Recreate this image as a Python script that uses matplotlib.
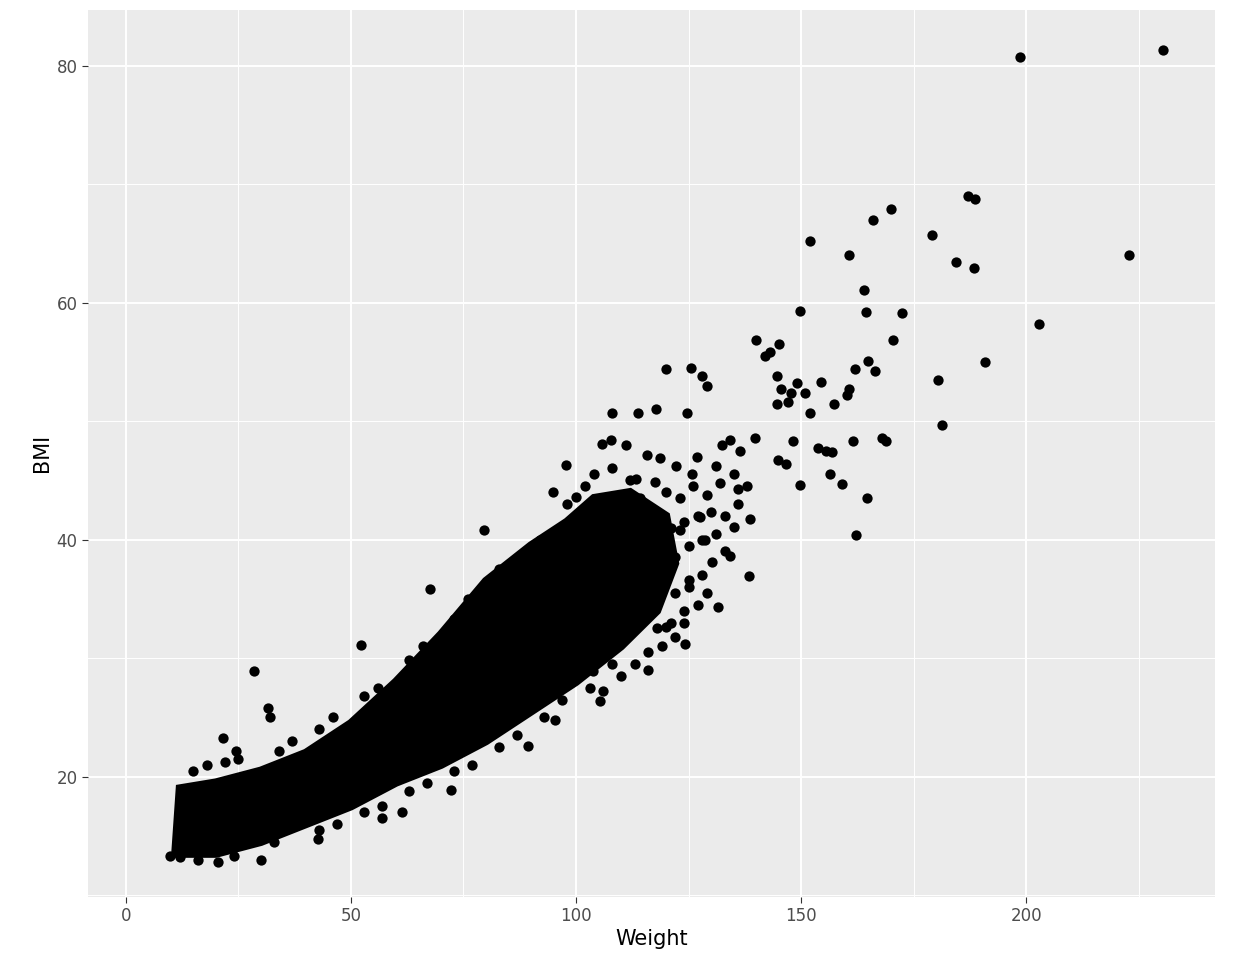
import matplotlib.pyplot as plt
from matplotlib.ticker import MultipleLocator

# outlying / fringe points (Weight, BMI)
pts_weight = [
    230.4, 198.7, 222.9, 202.9, 187.1, 188.7, 179.1, 184.4, 188.4, 170.0, 166.0,
    152.0, 160.7, 164.0, 164.4, 172.4, 149.8, 170.4, 190.9, 180.4, 181.3, 164.9,
    166.4, 162.0, 140.0, 145.0, 143.1, 142.0, 120.0, 125.6, 128.0, 129.1, 154.4,
    149.0, 150.9, 160.7, 160.2, 144.7, 145.6, 147.8, 147.0, 144.7, 157.3, 152.0,
    161.6, 168.0, 168.9, 153.8, 156.9, 155.6, 156.4, 159.1, 164.7, 162.2, 149.8,
    144.9, 148.2, 146.7, 108.0, 117.8, 113.8, 124.7, 107.8, 94.9, 100.0, 120.0,
    124.2, 131.6, 138.4, 103.8, 105.3, 95.3, 89.3, 72.2, 61.3, 56.9, 42.7, 28.4,
    31.6, 32.0, 21.6, 24.4, 9.8, 30.0, 20.4, 52.2, 67.6, 79.6, 97.8, 105.8, 111.1,
    115.8, 132.4, 134.2, 136.4, 139.8, 131.1, 136.0, 138.7, 135.0, 128.7, 130.2,
    125.1, 134.2, 126.9, 125.8, 122.2, 118.7, 117.6, 113.3, 102.0, 105.3, 109.8,
    114.2, 118.7, 123.1, 127.6,
    # band fringe
    15, 18, 22, 25, 34, 37, 43, 46, 53, 56, 63, 66, 73, 76, 83, 86, 92, 95,
    12, 16, 24, 33, 43, 47, 53, 57, 63, 67, 73, 77, 83, 87, 93, 97, 103, 108,
    # dense patch right of the core
    120, 123, 126, 129, 132, 121, 124, 127, 130, 133, 136, 119, 122, 125, 128,
    131, 122, 125, 128, 118, 121, 124, 127, 116, 119, 122, 113, 116, 110, 106,
    102, 98, 104, 108, 112, 135, 138, 133, 129, 124,
]
pts_bmi = [
    81.3, 80.7, 64.0, 58.2, 69.0, 68.7, 65.7, 63.4, 62.9, 67.9, 67.0,
    65.2, 64.0, 61.1, 59.2, 59.1, 59.3, 56.8, 55.0, 53.5, 49.7, 55.1,
    54.2, 54.4, 56.8, 56.5, 55.8, 55.5, 54.4, 54.5, 53.8, 53.0, 53.3,
    53.2, 52.4, 52.7, 52.2, 53.8, 52.7, 52.4, 51.6, 51.4, 51.4, 50.7,
    48.3, 48.6, 48.3, 47.7, 47.4, 47.5, 45.5, 44.7, 43.5, 40.4, 44.6,
    46.7, 48.3, 46.4, 50.7, 51.0, 50.7, 50.7, 48.4, 44.0, 43.6, 32.6,
    31.2, 34.3, 36.9, 28.9, 26.4, 24.8, 22.6, 18.9, 17.0, 16.5, 14.7, 28.9,
    25.8, 25.0, 23.3, 22.2, 13.3, 13.0, 12.8, 31.1, 35.8, 40.8, 46.3, 48.1, 48.0,
    47.1, 48.0, 48.4, 47.5, 48.6, 46.2, 44.3, 41.7, 41.1, 40.0, 38.1,
    36.6, 38.6, 47.0, 45.5, 46.2, 46.9, 44.9, 45.1, 40.8, 42.4, 42.5,
    43.5, 41.7, 40.8, 41.9,
    20.5, 21.0, 21.2, 21.5, 22.2, 23.0, 24.0, 25.0, 26.8, 27.5, 29.8, 31.0,
    33.3, 35.0, 37.5, 38.0, 40.0, 40.5,
    13.2, 13.0, 13.3, 14.5, 15.5, 16.0, 17.0, 17.5, 18.8, 19.5, 20.5, 21.0,
    22.5, 23.5, 25.0, 26.5, 27.5, 29.5,
    44.0, 43.5, 44.5, 43.8, 44.8, 41.0, 41.5, 42.0, 42.3, 42.0, 43.0, 38.0,
    38.5, 39.5, 40.0, 40.5, 35.5, 36.0, 37.0, 32.5, 33.0, 34.0, 34.5, 30.5,
    31.0, 31.8, 29.5, 29.0, 28.5, 27.2, 44.5, 43.0, 45.5, 46.0, 45.0, 45.5,
    44.5, 39.0, 35.5, 33.0,
]

# outline of the solid, fully overplotted core of the cloud
core_weight = [11, 20, 30, 40, 50, 60, 70, 80, 90, 100, 110, 118, 122,
               120, 112, 104, 98, 90, 80, 70, 60, 50, 40, 30, 20, 12]
core_bmi = [13.5, 13.5, 14.5, 16, 17.5, 19.5, 21, 23, 25.5, 28, 31, 34, 38,
            42, 44, 43.5, 41.5, 39.5, 36.5, 32, 28, 24.5, 22, 20.5, 19.5, 19]

fig = plt.figure(figsize=(12.4, 9.8), dpi=100)
ax = fig.add_axes([0.071, 0.085, 0.909, 0.905])
ax.set_facecolor("#EBEBEB")
ax.set_xlim(-8.4, 242)
ax.set_ylim(9.87, 84.7)

ax.xaxis.set_major_locator(MultipleLocator(50))
ax.xaxis.set_minor_locator(MultipleLocator(25))
ax.yaxis.set_major_locator(MultipleLocator(20))
ax.yaxis.set_minor_locator(MultipleLocator(10))
ax.grid(which="major", color="white", lw=1.4)
ax.grid(which="minor", color="white", lw=0.7)
ax.set_axisbelow(True)
for s in ax.spines.values():
    s.set_visible(False)

ax.fill(core_weight, core_bmi, color="black", lw=6, ec="black", zorder=2)
ax.scatter(pts_weight, pts_bmi, s=55, color="black", lw=0, zorder=3)

ax.tick_params(which="major", length=4, color="#333333", labelsize=12,
               labelcolor="#4D4D4D")
ax.tick_params(which="minor", length=0)
ax.set_xlabel("Weight", fontsize=15, labelpad=3)
ax.set_ylabel("BMI", fontsize=15, labelpad=3)

fig.savefig("out.png")
